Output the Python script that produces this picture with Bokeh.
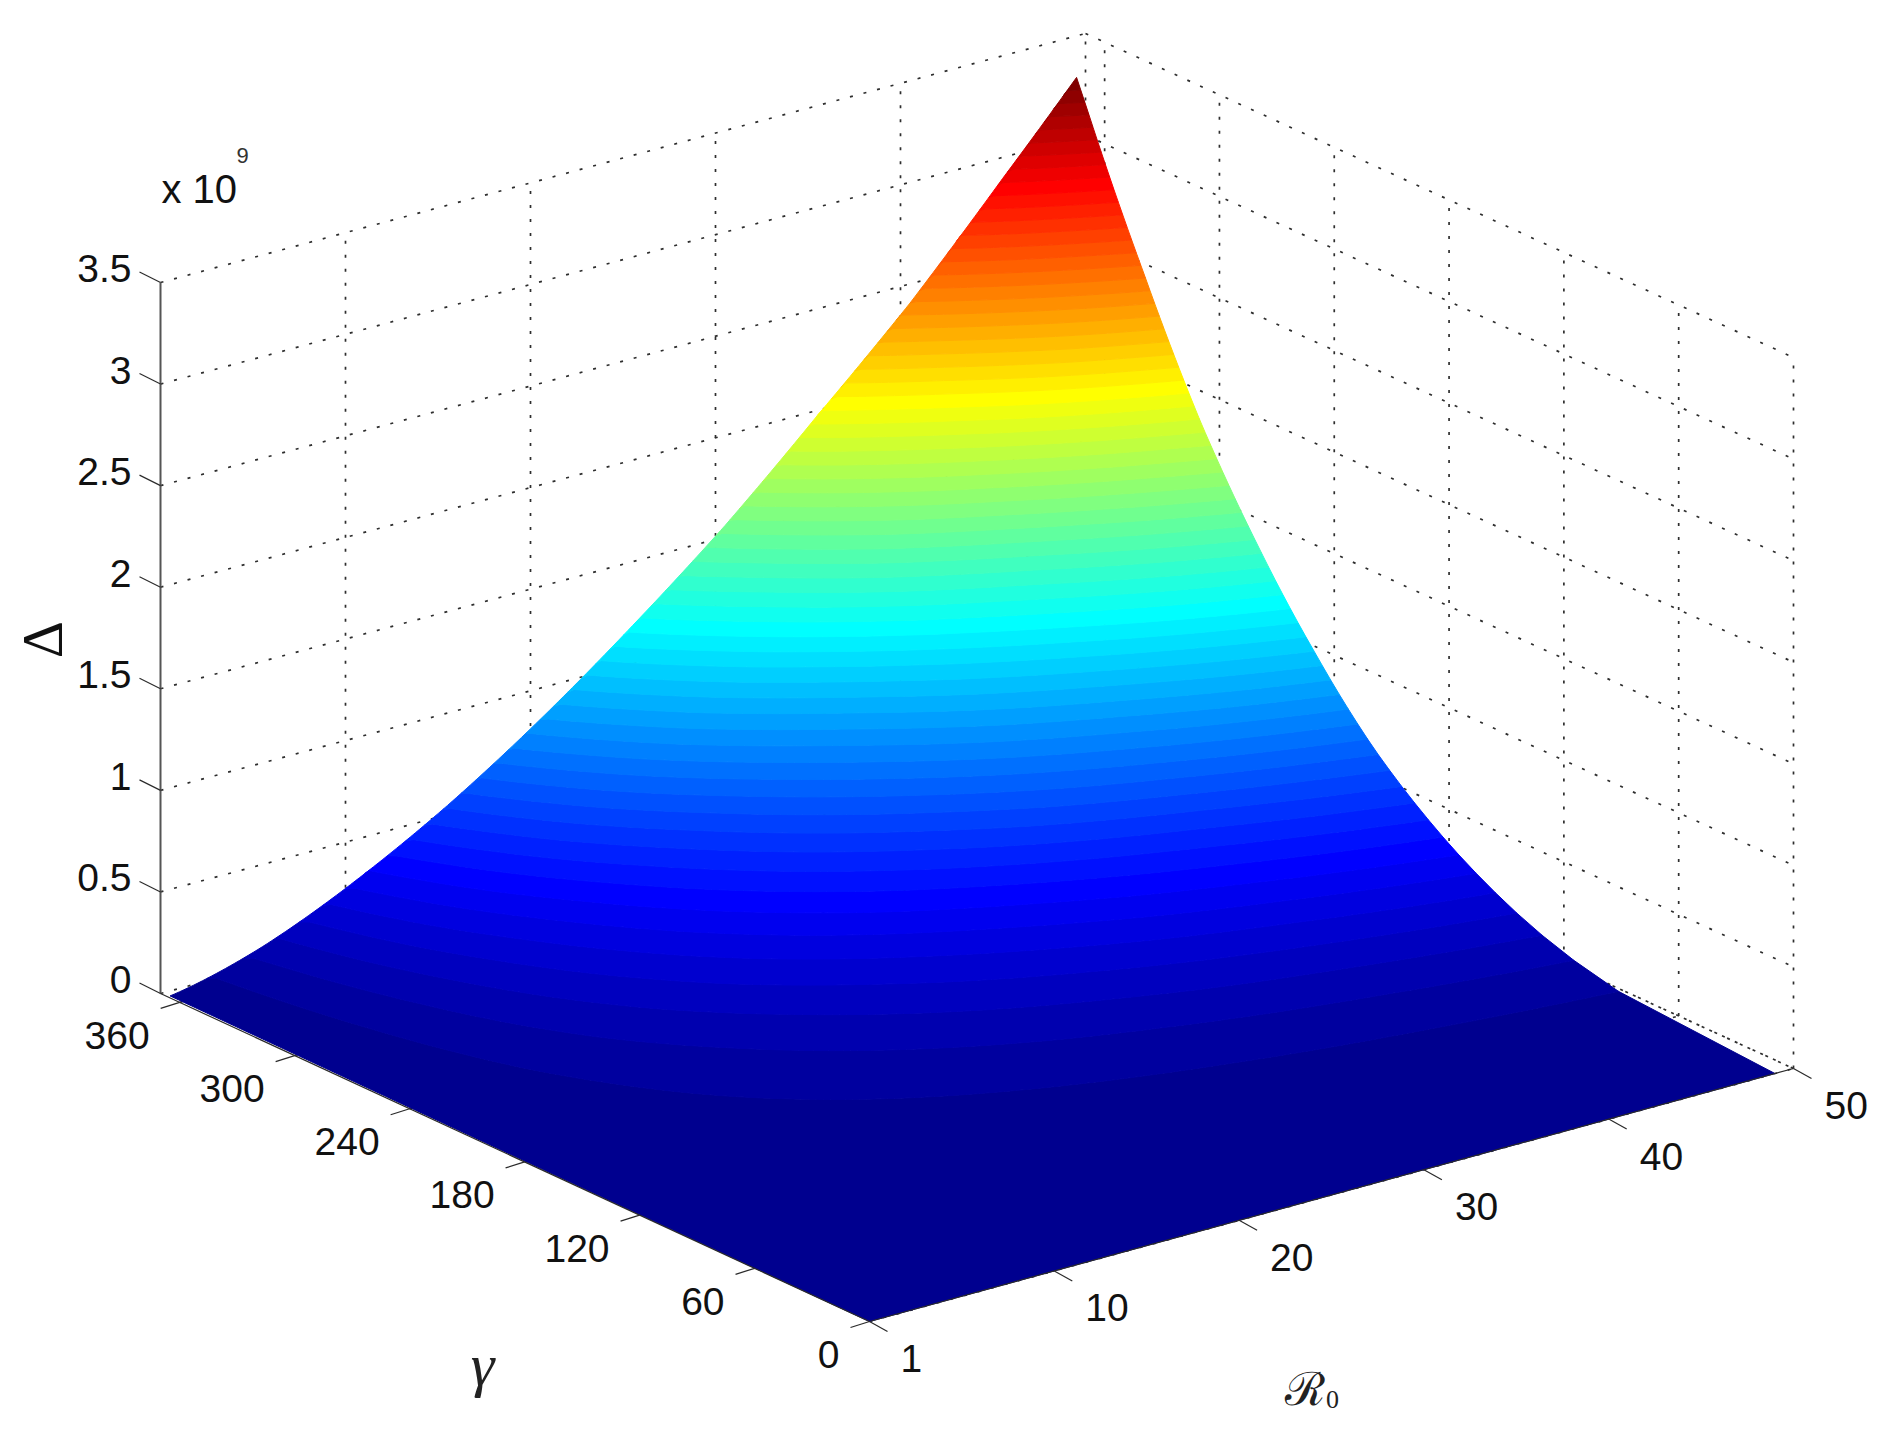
import numpy as np
from bokeh.plotting import figure
from bokeh.models import Range1d
from bokeh.core.properties import value
from bokeh.embed import file_html
from bokeh.resources import INLINE

# Axis tick values and labels
R_TICKS = [0, 10, 20, 30, 40, 50]
R_LABELS = ["1", "10", "20", "30", "40", "50"]
GAMMA_TICKS = [0, 60, 120, 180, 240, 300, 360]
GAMMA_LABELS = ["0", "60", "120", "180", "240", "300", "360"]
Z_TICKS = [0, 0.5, 1, 1.5, 2, 2.5, 3, 3.5]
Z_LABELS = ["0", "0.5", "1", "1.5", "2", "2.5", "3", "3.5"]

# Delta (x 10^9)
R_SAMPLES = [0, 5, 10, 15, 20, 25, 30, 35, 40, 45, 49]
DELTA_AT_GAMMA_MAX = [0.01, 0.13, 0.33, 0.58, 0.88, 1.22, 1.59, 2.01, 2.44, 2.93, 3.33]
GAMMA_SAMPLES = [0, 30, 60, 90, 120, 150, 180, 210, 240, 270, 300, 330, 360, 365]
DELTA_AT_R_MAX = [0, 0.003, 0.022, 0.068, 0.15, 0.28, 0.46, 0.70, 1.03, 1.43, 1.91, 2.52, 3.21, 3.33]

# Projection of the MATLAB-style 3D box to page pixels
F, RT, L, B = (869, 1321), (1793, 1068), (160, 993), (1085, 744)
R_MAX, G_MAX, Z_PX = 50.0, 370.0, 711 / 3.5


def proj(r, g, z=0.0):
    r, g, z = np.asarray(r, float), np.asarray(g, float), np.asarray(z, float)
    u, v = r / R_MAX, g / G_MAX
    x = (1-u)*(1-v)*F[0] + u*(1-v)*RT[0] + (1-u)*v*L[0] + u*v*B[0]
    y = (1-u)*(1-v)*F[1] + u*(1-v)*RT[1] + (1-u)*v*L[1] + u*v*B[1]
    return x, y - z * Z_PX


def jet(i, n=64):
    w = (i + 1) / n
    c = lambda a: int(round(255 * min(1.0, max(0.0, a))))
    return "#%02x%02x%02x" % (c(min(4*w-1.5, -4*w+4.5)), c(min(4*w-0.5, -4*w+3.5)), c(min(4*w+0.5, -4*w+2.5)))


p = figure(width=1875, height=1417, x_range=Range1d(0, 1875), y_range=Range1d(1417, 0),
           output_backend="svg", toolbar_location=None, min_border=0,
           background_fill_color="white", border_fill_color="white")
p.axis.visible = False
p.grid.visible = False
p.outline_line_color = None

# dotted grid on the floor and the two back walls
xs, ys = [], []
def seg(a, b):
    x0, y0 = proj(*a); x1, y1 = proj(*b)
    xs.append([float(x0), float(x1)]); ys.append([float(y0), float(y1)])
for zt in Z_TICKS:
    seg((0, G_MAX, zt), (R_MAX, G_MAX, zt))
    seg((R_MAX, G_MAX, zt), (R_MAX, 0, zt))
for rt in R_TICKS[1:]:
    seg((rt, G_MAX, 0), (rt, G_MAX, 3.5))
    seg((rt, 0, 0), (rt, G_MAX, 0))
for gt in GAMMA_TICKS:
    seg((R_MAX, gt, 0), (R_MAX, gt, 3.5))
    seg((0, gt, 0), (R_MAX, gt, 0))
p.multi_line(xs, ys, line_color="#2e2e2e", line_width=1.7, line_dash="3 11")

# surface: 64 flat jet bands
r_fine = np.linspace(0, 49, 197)
g_fine = np.linspace(0, 365, 731)
f_fine = np.interp(r_fine, R_SAMPLES, np.array(DELTA_AT_GAMMA_MAX) ** (2/3)) ** 1.5
h_fine = np.interp(g_fine, GAMMA_SAMPLES, np.cbrt(DELTA_AT_R_MAX)) ** 3
zmax = DELTA_AT_R_MAX[-1]


def iso(level):
    return np.interp(level * zmax / f_fine, h_fine, g_fine, left=0, right=365)


px, py, cols = [], [], []
for k in range(64):
    lo = iso(k / 64 * zmax) if k else np.zeros_like(r_fine)
    hi = iso((k + 1) / 64 * zmax)
    m0 = hi - lo > 1e-9
    m = m0.copy()
    m[:-1] |= m0[1:]
    m[1:] |= m0[:-1]
    rr, lo, hi = r_fine[m], lo[m], hi[m]
    if len(rr) < 2:
        continue
    r_ring = np.r_[rr, rr[::-1]]
    g_ring = np.r_[lo, hi[::-1]]
    z_ring = np.interp(g_ring, g_fine, h_fine) * np.interp(r_ring, r_fine, f_fine) / zmax
    x, y = proj(r_ring, g_ring, z_ring)
    px.append(x.tolist()); py.append(y.tolist()); cols.append(jet(k))
p.patches(px, py, fill_color=cols, line_color=cols, line_width=1.0)

# axis lines
ax = "#2a2a2a"
x0, y0 = proj(0, G_MAX, 0); x1, y1 = proj(0, G_MAX, 3.5)
p.line([float(x0), float(x1)], [float(y0), float(y1)], line_color="#555555", line_width=2)
x0, y0 = proj(0, 0, 0); x1, y1 = proj(R_MAX, 0, 0)
p.line([float(x0), float(x1)], [float(y0), float(y1)], line_color=ax, line_width=1.2)
x1, y1 = proj(0, G_MAX, 0)
p.line([float(x0), float(x1)], [float(y0), float(y1)], line_color=ax, line_width=1.2)

# ticks and labels
FONT = value("Liberation Sans")
size = "39px"
tx, ty = [], []
for zt in Z_TICKS:
    x, y = proj(0, G_MAX, zt)
    tx.append([float(x), float(x) - 21]); ty.append([float(y), float(y) - 10.5])
for rt in R_TICKS:
    x, y = proj(rt, 0, 0)
    tx.append([float(x), float(x) + 18]); ty.append([float(y), float(y) + 10])
for gt in GAMMA_TICKS:
    x, y = proj(0, gt, 0)
    tx.append([float(x), float(x) - 19]); ty.append([float(y), float(y) + 6])
p.multi_line(tx, ty, line_color=ax, line_width=1.2)

zx, zy = proj(0, G_MAX, np.array(Z_TICKS))
p.text((zx - 29).tolist(), (zy - 14).tolist(), text=Z_LABELS, text_align="right", text_baseline="middle",
       text_font=FONT, text_font_size=size, text_color="#111111")
rx, ry = proj(np.array(R_TICKS), 0, 0)
p.text((rx + 31).tolist(), (ry + 37).tolist(), text=R_LABELS, text_align="left", text_baseline="middle",
       text_font=FONT, text_font_size=size, text_color="#111111")
gx, gy = proj(0, np.array(GAMMA_TICKS), 0)
p.text((gx - 30).tolist(), (gy + 33).tolist(), text=GAMMA_LABELS, text_align="right", text_baseline="middle",
       text_font=FONT, text_font_size=size, text_color="#111111")

# exponent and axis titles
p.text([161], [188], text=["x 10"], text_align="left", text_baseline="middle",
       text_font=FONT, text_font_size="40px", text_color="#111111")
p.text([242], [155], text=["9"], text_align="center", text_baseline="middle",
       text_font=FONT, text_font_size="22px", text_color="#333333")
p.text([42], [639], text=["Δ"], angle=np.pi / 2, text_align="center", text_baseline="middle",
       text_font=value("Liberation Serif"), text_font_size="58px", text_color="#111111")
p.text([482], [1364], text=["γ"], text_align="center", text_baseline="middle",
       text_font=value("Liberation Serif"), text_font_style="italic", text_font_size="60px", text_color="#222222")
p.text([1304], [1388], text=["ℛ"], text_align="center", text_baseline="middle",
       text_font=value("DejaVu Serif"), text_font_size="46px", text_color="#222222")
p.text([1332], [1399], text=["0"], text_align="center", text_baseline="middle",
       text_font=value("Liberation Serif"), text_font_size="26px", text_color="#222222")

open("out.html", "w").write(file_html(p, INLINE))
